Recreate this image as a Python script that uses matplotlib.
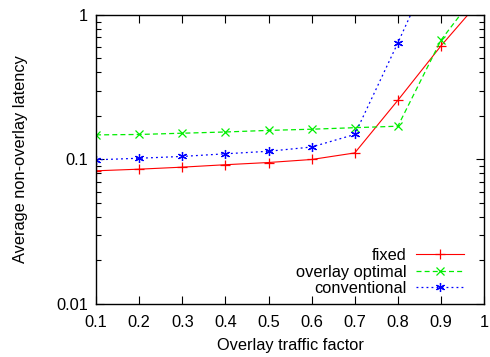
import numpy as np
import matplotlib
matplotlib.use("Agg")
import matplotlib.pyplot as plt
from matplotlib.ticker import LogLocator, FixedLocator, NullFormatter

plt.rcParams['font.family'] = ['Liberation Sans', 'DejaVu Sans']

# overlay traffic factor
factor = [0.1, 0.2, 0.3, 0.4, 0.5, 0.6, 0.7, 0.8, 0.9, 1.0]
fixed = [0.0835, 0.0857, 0.0885, 0.092, 0.0953, 0.1, 0.111, 0.257, 0.612, 1.35]
overlay_optimal = [0.148, 0.149, 0.152, 0.155, 0.159, 0.162, 0.166, 0.170, 0.67, 1.65]
conventional = [0.0995, 0.102, 0.105, 0.1095, 0.114, 0.122, 0.149, 0.642, 2.9, 10.0]

fs = 11.8

fig = plt.figure(figsize=(4.9, 3.57), dpi=100)
ax = fig.add_axes([0.196, 0.1485, 0.792, 0.8095])

ax.plot(factor, fixed, color='#ff0000', ls='-', lw=0.8, marker='+', ms=6.5, mew=0.9, label='fixed')
ax.plot(factor, overlay_optimal, color='#00ee00', ls=(0, (4, 2.5)), lw=0.9, marker='x', ms=5.5, mew=0.9,
        label='overlay optimal')
ax.plot(factor, conventional, color='#0000ff', ls=(0, (1.5, 2.5)), lw=0.9, marker=(6, 2, 0), ms=6.5, mew=0.9,
        label='conventional')

ax.set_yscale('log')
ax.set_xlim(0.1, 1.0)
ax.set_ylim(0.01, 1)
ax.xaxis.set_major_locator(FixedLocator(factor))
ax.set_xticklabels(['0.1', '0.2', '0.3', '0.4', '0.5', '0.6', '0.7', '0.8', '0.9', '1'])
ax.yaxis.set_major_locator(FixedLocator([0.01, 0.1, 1]))
ax.set_yticklabels(['0.01', '0.1', '1'])
ax.yaxis.set_minor_locator(LogLocator(base=10, subs=np.arange(2, 10)))
ax.yaxis.set_minor_formatter(NullFormatter())

ax.tick_params(which='both', direction='in', top=True, right=True, labelsize=fs)
ax.tick_params(axis='x', pad=8)
ax.tick_params(axis='y', pad=6)
ax.tick_params(which='major', length=6, width=0.8)
ax.tick_params(which='minor', length=3.5, width=0.8)
for s in ax.spines.values():
    s.set_linewidth(1.0)

ax.set_xlabel('Overlay traffic factor', fontsize=fs, labelpad=6)
ax.set_ylabel('Average non-overlay latency', fontsize=fs, labelpad=20)

ax.legend(loc='lower right', frameon=False, fontsize=fs, markerfirst=False, numpoints=1,
          handlelength=2.9, handletextpad=0.6, labelspacing=0.1, borderaxespad=0, borderpad=0,
          bbox_to_anchor=(0.948, 0.027))

fig.savefig('out.png', dpi=100)
